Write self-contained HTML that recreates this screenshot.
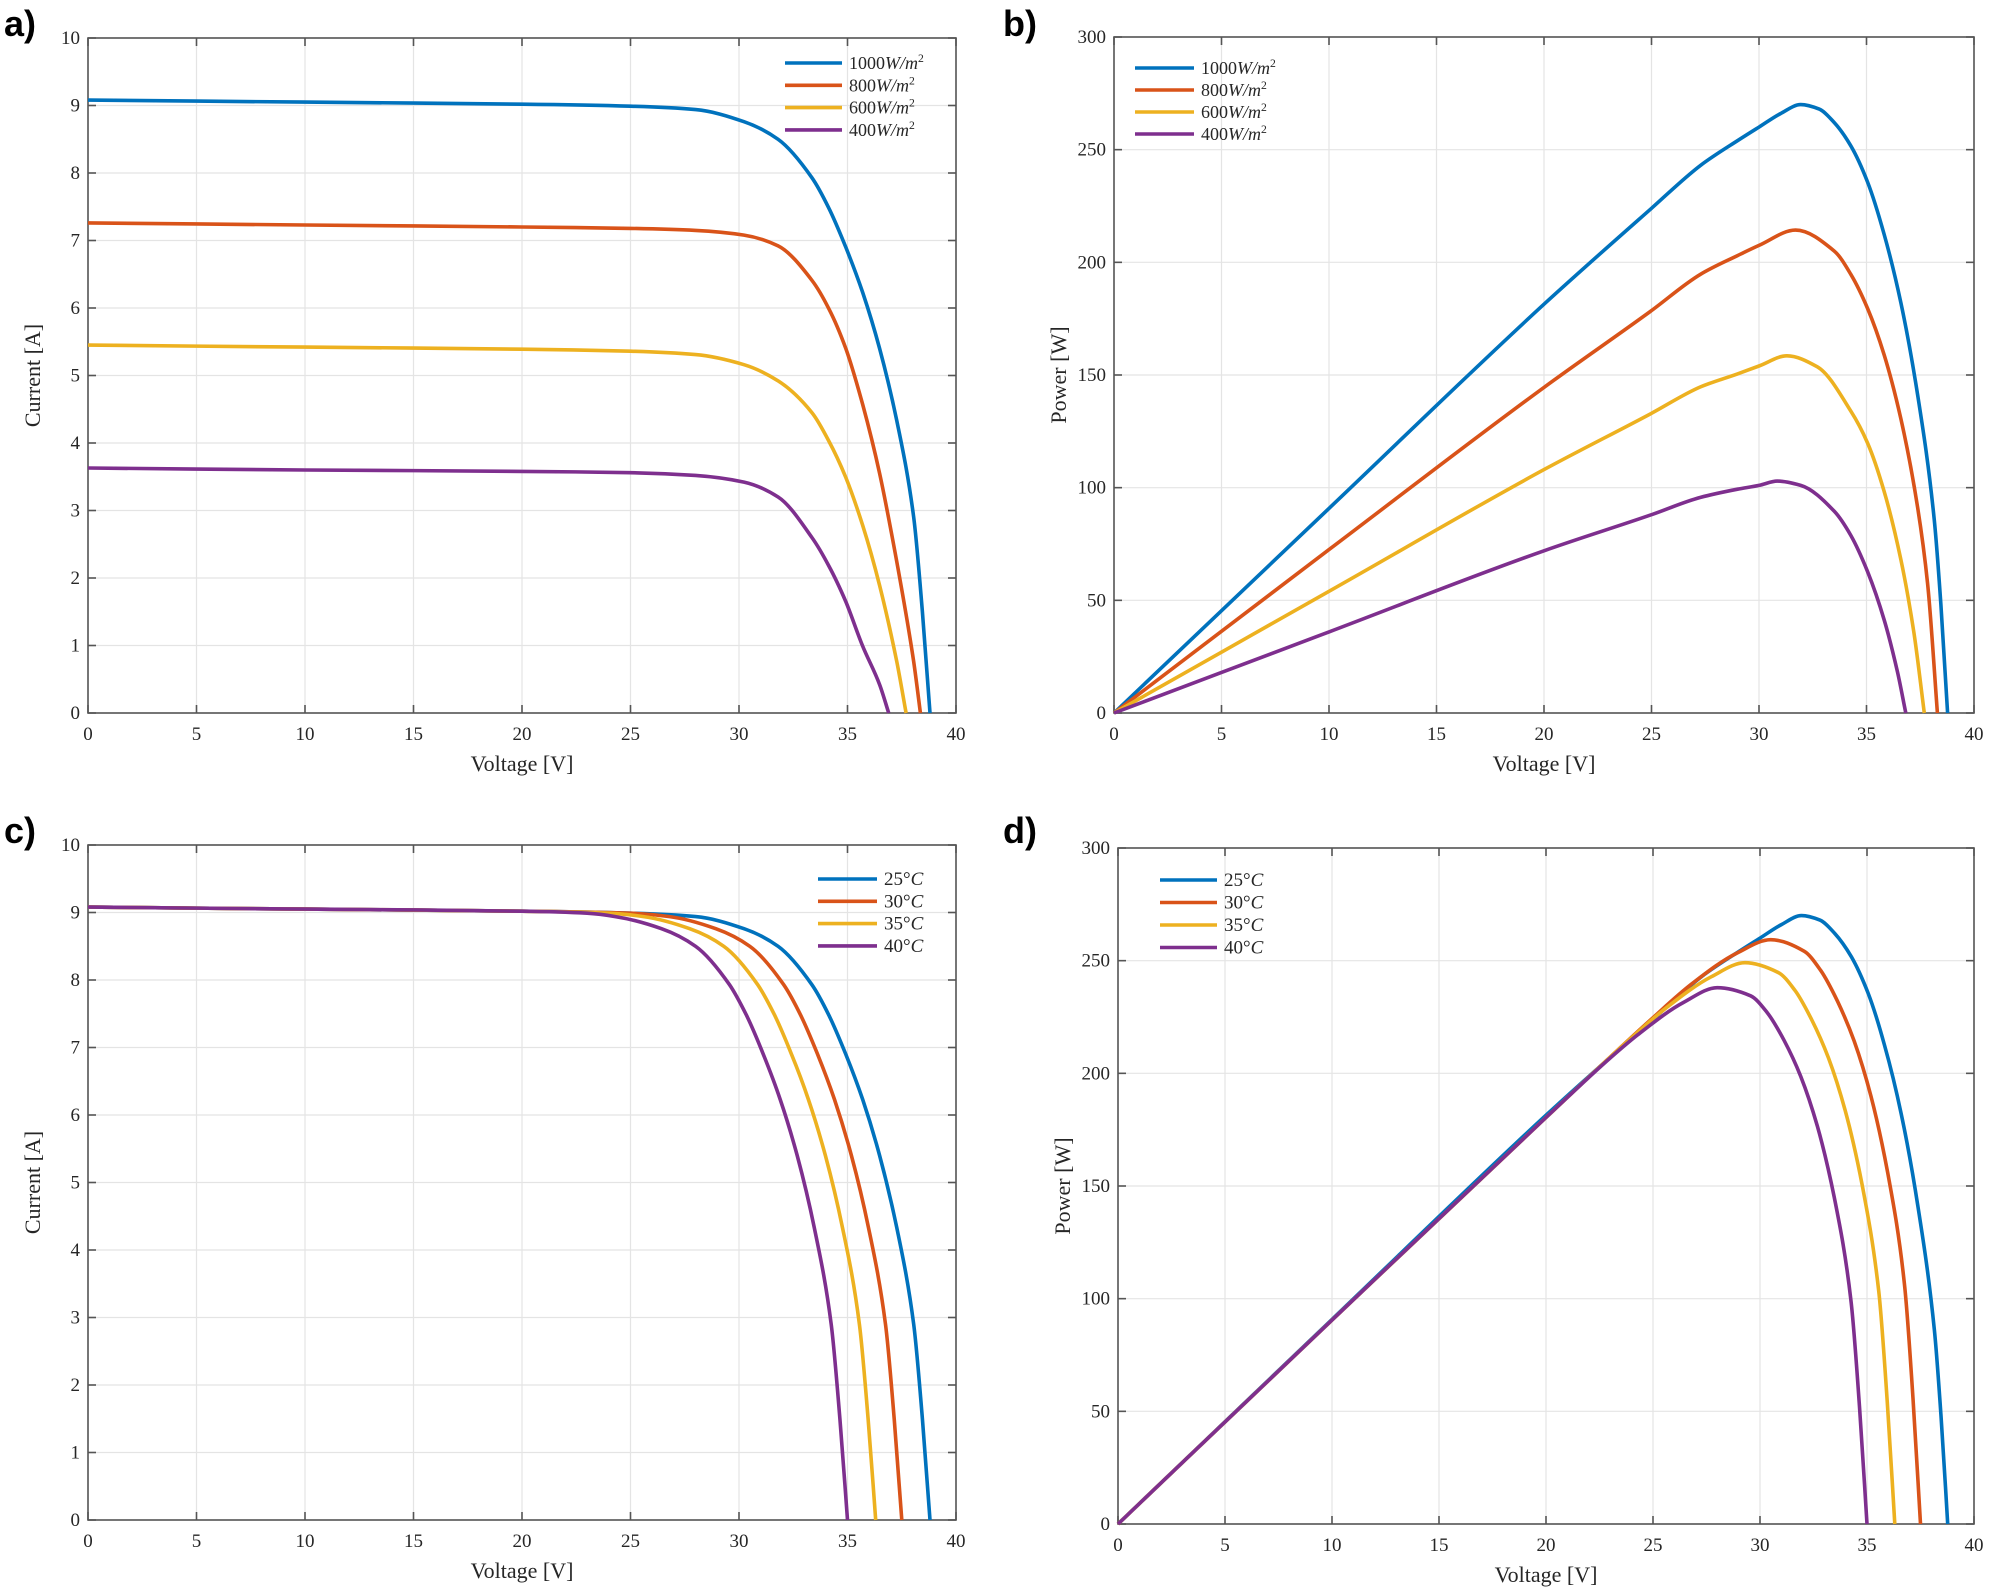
<!DOCTYPE html>
<html><head><meta charset="utf-8"><style>
html,body{margin:0;padding:0;background:#fff;}
svg{display:block;}
text{font-family:"Liberation Serif",serif;fill:#262626;}
.lbl{font-family:"Liberation Sans",sans-serif;font-weight:bold;font-size:36px;fill:#000;}
</style></head><body>
<svg id="fig" width="1993" height="1589" viewBox="0 0 1993 1589" xmlns="http://www.w3.org/2000/svg">
<text class="lbl" x="4" y="36">a)</text>
<text class="lbl" x="1003" y="36">b)</text>
<text class="lbl" x="4" y="843">c)</text>
<text class="lbl" x="1003" y="843">d)</text>
</svg>
<script>
const COLORS=['#0072BD','#D95319','#EDB120','#7E2F8E'];
const xTicks=[0,5,10,15,20,25,30,35,40];
const iTicks=[0,1,2,3,4,5,6,7,8,9,10];
const pTicks=[0,50,100,150,200,250,300];
const irrNums=['1000','800','600','400'];
const tempNums=['25','30','35','40'];

// Panel a: I-V vs irradiance
const aV1000=[0,10,20,25,28,30.23,31.8,33.36,34.14,34.92,35.7,36.48,37.27,38.05,38.45,38.8];
const aI1000=[9.08,9.05,9.02,8.99,8.94,8.76,8.5,7.93,7.48,6.9,6.23,5.4,4.33,2.9,1.5,0];
const aV800=[0,10,20,25,28,30.23,31.8,33.36,34.14,34.92,35.7,36.48,37.27,38.05,38.36];
const aI800=[7.26,7.23,7.2,7.18,7.15,7.08,6.92,6.41,5.99,5.4,4.57,3.55,2.24,0.76,0];
const aV600=[0,10,20,25,28,30.23,31.8,33.36,34.14,34.92,35.7,36.48,37.27,37.7];
const aI600=[5.45,5.42,5.39,5.36,5.31,5.16,4.92,4.45,4.03,3.49,2.78,1.89,0.76,0];
const aV400=[0,10,20,25,28,30.23,31.8,33.36,34.14,34.92,35.7,36.48,36.9];
const aI400=[3.63,3.6,3.58,3.56,3.52,3.42,3.2,2.6,2.18,1.65,0.99,0.42,0];

// Panel b: P-V vs irradiance
const bV1000=[0,10,20,25,27.28,29,30,31,31.94,32.8,33.5,34.27,35.05,35.82,36.6,37.38,38.15,38.46,38.77];
const bP1000=[0,90.8,181.4,224,243,254,260,266,270,268,262,251.7,235.6,212.5,182,141,86,48,0];
const bV800=[0,10,20,25,27.28,29,30,31.7,33.5,34.27,35.05,35.82,36.6,37.38,37.84,38.3];
const bP800=[0,72.5,144.5,178.6,194.7,203,207.5,214.3,205,194.7,179.5,159,130.5,91,57.4,0];
const bV600=[0,10,20,25,27.28,29,30,31.3,32.7,34.27,35.05,35.82,36.6,37.2,37.69];
const bP600=[0,54,108,133,144.7,150.5,154,158.5,153.7,134,119.8,98.4,68,36,0];
const bV400=[0,10,20,25,27.28,29,30,30.85,31.94,33.5,34.27,35.05,35.82,36.44,36.83];
const bP400=[0,36,72,88,95.7,99.3,101,102.9,101,89.5,78.8,62.7,41.4,18.2,0];

// Panel c: I-V vs temperature
const cV25=[0,10,20,25,28,30.23,31.8,33.36,34.14,34.92,35.7,36.48,37.27,38.05,38.45,38.8];
const cI25=[9.08,9.05,9.02,8.99,8.94,8.76,8.5,7.93,7.48,6.9,6.23,5.4,4.33,2.9,1.5,0];
const cV30=[0,10,20,25,26.8,28.93,30.5,32.06,32.84,33.62,34.4,35.18,35.97,36.75,37.15,37.5];
const cI30=[9.08,9.05,9.02,8.99,8.94,8.76,8.5,7.93,7.48,6.9,6.23,5.4,4.33,2.9,1.5,0];
const cV35=[0,10,20,24,25.6,27.73,29.3,30.86,31.64,32.42,33.2,33.98,34.77,35.55,35.95,36.3];
const cI35=[9.08,9.05,9.02,8.99,8.94,8.76,8.5,7.93,7.48,6.9,6.23,5.4,4.33,2.9,1.5,0];
const cV40=[0,10,20,23,24.3,26.43,28,29.56,30.34,31.12,31.9,32.68,33.47,34.25,34.65,35];
const cI40=[9.08,9.05,9.02,8.99,8.94,8.76,8.5,7.93,7.48,6.9,6.23,5.4,4.33,2.9,1.5,0];

// Panel d: P-V vs temperature
const dV25=[0,10,20,25,27.28,29,30,31,31.94,32.8,33.5,34.27,35.05,35.82,36.6,37.38,38.15,38.46,38.77];
const dP25=[0,90.8,181.4,224,243,254,260,266,270,268,262,251.7,235.6,212.5,182,141,86,48,0];
const dV30=[0,10,20,25,26.8,28.93,30.5,32.06,32.84,33.62,34.4,35.18,35.97,36.75,37.15,37.5];
const dP30=[0,90.5,180.4,224.7,239.6,253.4,259.3,254.2,245.6,232,214.3,190,155.7,106.6,55.7,0];
const dV35=[0,10,20,24,25.6,27.73,29.3,30.86,31.64,32.42,33.2,33.98,34.77,35.55,35.95,36.3];
const dP35=[0,90.5,180.4,215.8,228.9,242.9,249.1,244.7,236.7,223.7,206.8,183.5,150.6,103.1,53.9,0];
const dV40=[0,10,20,23,24.3,26.43,28,29.56,30.34,31.12,31.9,32.68,33.47,34.25,34.65,35];
const dP40=[0,90.5,180.4,206.8,217.2,231.5,238,234.4,226.9,214.7,198.7,176.5,144.9,99.3,52,0];

const NS='http://www.w3.org/2000/svg';
const svg=document.getElementById('fig');
function mk(tag,attrs,parent){const e=document.createElementNS(NS,tag);for(const k in attrs)e.setAttribute(k,attrs[k]);(parent||svg).appendChild(e);return e;}

// monotone cubic (Fritsch-Carlson) path in pixel space
function monoPath(pts){
  const n=pts.length,dx=[],m=[],t=[];
  for(let i=0;i<n-1;i++){dx[i]=pts[i+1][0]-pts[i][0];m[i]=(pts[i+1][1]-pts[i][1])/dx[i];}
  t[0]=m[0];t[n-1]=m[n-2];
  for(let i=1;i<n-1;i++){
    if(m[i-1]*m[i]<=0)t[i]=0;
    else{const w1=2*dx[i]+dx[i-1],w2=dx[i]+2*dx[i-1];t[i]=(w1+w2)/(w1/m[i-1]+w2/m[i]);}
  }
  let d='M'+pts[0][0].toFixed(1)+','+pts[0][1].toFixed(1);
  for(let i=0;i<n-1;i++){
    const h=dx[i]/3;
    d+=' C'+(pts[i][0]+h).toFixed(1)+','+(pts[i][1]+t[i]*h).toFixed(1)+' '+(pts[i+1][0]-h).toFixed(1)+','+(pts[i+1][1]-t[i+1]*h).toFixed(1)+' '+pts[i+1][0].toFixed(1)+','+pts[i+1][1].toFixed(1);
  }
  return d;
}

function panel(id,box,yTicks,yMax,yTitle,series,nums,isIrr,leg){
  const [L,T,R,B]=box;
  const g=mk('g',{});
  
  
  const xs=v=>L+(v/40)*(R-L);
  const ys=v=>B-(v/yMax)*(B-T);
  const grid=mk('g',{stroke:'#e4e4e4','stroke-width':1.2},g);
  
  
  xTicks.forEach(t=>{const x=xs(t);mk('line',{x1:x,y1:T,x2:x,y2:B},grid);});
  yTicks.forEach(t=>{const y=ys(t);mk('line',{x1:L,y1:y,x2:R,y2:y},grid);});
  const ax=mk('g',{stroke:'#555','stroke-width':1.6},g);
  
  
  xTicks.forEach(t=>{const x=xs(t);mk('line',{x1:x,y1:B,x2:x,y2:B-8},ax);mk('line',{x1:x,y1:T,x2:x,y2:T+8},ax);
    const tx=mk('text',{x:x,y:B+27,'text-anchor':'middle','font-size':19},g);tx.textContent=t;
    
    });
  yTicks.forEach(t=>{const y=ys(t);mk('line',{x1:L,y1:y,x2:L+8,y2:y},ax);mk('line',{x1:R,y1:y,x2:R-8,y2:y},ax);
    const tx=mk('text',{x:L-8,y:y+6,'text-anchor':'end','font-size':19},g);tx.textContent=t;
    
    });
  mk('rect',{x:L,y:T,width:R-L,height:B-T,fill:'none'},ax);
  const xt=mk('text',{x:(L+R)/2,y:B+58,'text-anchor':'middle','font-size':22},g);xt.textContent='Voltage [V]';
  
  
  const yx=L-48,yy=(T+B)/2;
  const yt=mk('text',{x:yx,y:yy,'text-anchor':'middle','font-size':22,transform:'rotate(-90 '+yx+' '+yy+')'},g);yt.textContent=yTitle;
  
  
  series.forEach((s,k)=>{
    const pts=s[0].map((v,i)=>[xs(v),ys(s[1][i])]);
    const p=mk('path',{d:monoPath(pts),fill:'none',stroke:COLORS[k],'stroke-width':3.6,'stroke-linejoin':'round'},g);
    
    
  });
  const lg=mk('g',{},g);
  
  
  nums.forEach((num,k)=>{
    const y=leg.y+k*leg.dy;
    const e=mk('g',{},lg);
    
    
    mk('line',{x1:leg.x,y1:y,x2:leg.x+leg.w,y2:y,stroke:COLORS[k],'stroke-width':3.6},e);
    const t=mk('text',{x:leg.x+leg.w+7,y:y+6,'font-size':leg.fs},e);
    if(isIrr){
      t.innerHTML=num+'<tspan font-style="italic">W/m</tspan><tspan font-size="'+(leg.fs*0.65)+'" dy="-7">2</tspan>';
    }else{
      t.innerHTML=num+'°<tspan font-style="italic">C</tspan>';
    }
  });
}

panel('panel-a',[88,38,956,713],iTicks,10,'Current [A]',
  [[aV1000,aI1000],[aV800,aI800],[aV600,aI600],[aV400,aI400]],irrNums,true,{x:785,y:63,dy:22.3,w:57,fs:18});
panel('panel-b',[1114,37,1974,713],pTicks,300,'Power [W]',
  [[bV1000,bP1000],[bV800,bP800],[bV600,bP600],[bV400,bP400]],irrNums,true,{x:1135,y:68,dy:22,w:59,fs:18});
panel('panel-c',[88,845,956,1520],iTicks,10,'Current [A]',
  [[cV25,cI25],[cV30,cI30],[cV35,cI35],[cV40,cI40]],tempNums,false,{x:818,y:879,dy:22.3,w:59,fs:19});
panel('panel-d',[1118,848,1974,1524],pTicks,300,'Power [W]',
  [[dV25,dP25],[dV30,dP30],[dV35,dP35],[dV40,dP40]],tempNums,false,{x:1160,y:880,dy:22.5,w:57,fs:19});
</script>
</body></html>
